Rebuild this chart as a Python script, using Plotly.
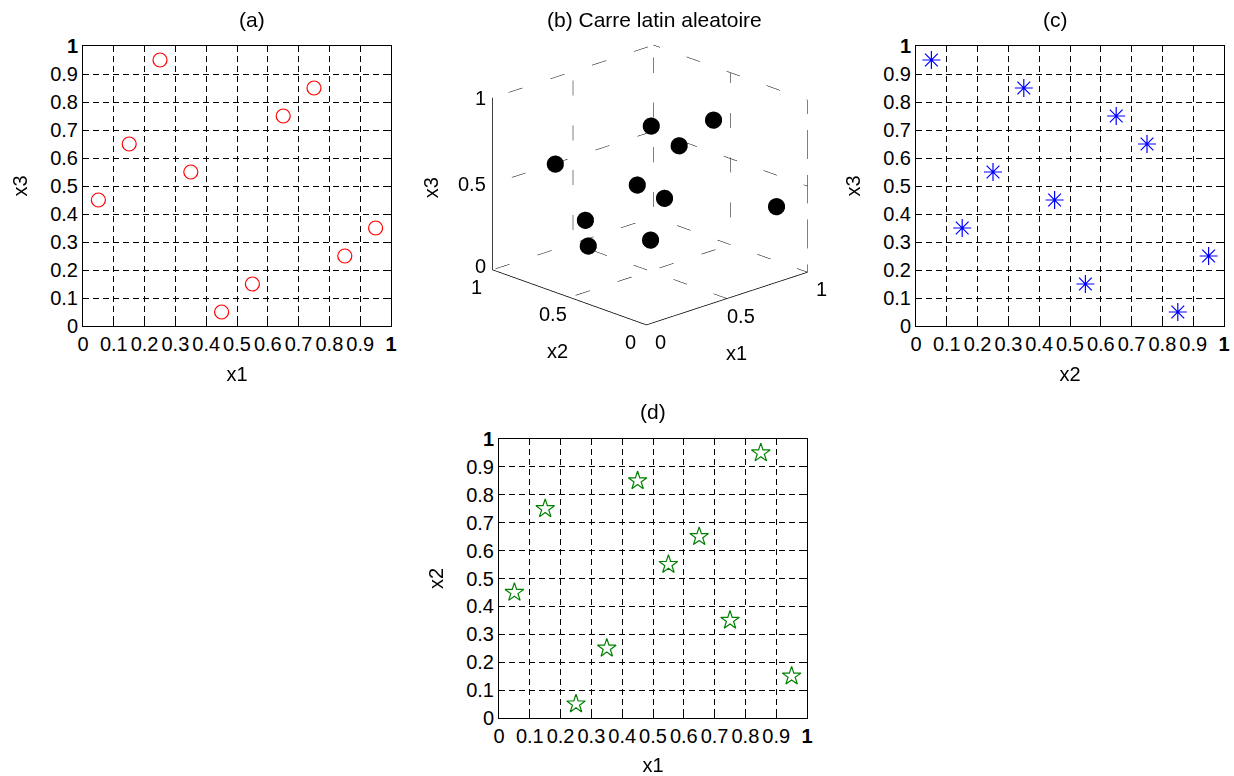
import plotly.graph_objects as go

# Data: random latin hypercube sample (10 points)
x1 = [0.05, 0.15, 0.25, 0.35, 0.45, 0.55, 0.65, 0.75, 0.85, 0.95]
x2 = [0.45, 0.75, 0.05, 0.25, 0.85, 0.55, 0.65, 0.35, 0.95, 0.15]
x3 = [0.45, 0.65, 0.95, 0.55, 0.05, 0.15, 0.75, 0.85, 0.25, 0.35]

tick_vals = [0, 0.1, 0.2, 0.3, 0.4, 0.5, 0.6, 0.7, 0.8, 0.9, 1]
tick_text = ["0", "0.1", "0.2", "0.3", "0.4", "0.5", "0.6", "0.7", "0.8", "0.9", "<b>1</b>"]
tick3_vals = [0, 0.5, 1]
tick3_text = ["0", "0.5", "1"]

W, H = 1234, 776
FONT = "Liberation Sans, Arial, sans-serif"
FS = 20
TS = 21


def dx(a, b):
    return [a / W, b / W]


def dy(top, bottom):
    return [1 - bottom / H, 1 - top / H]


fig = go.Figure()

# (a) x1 vs x3
fig.add_trace(go.Scatter(x=x1, y=x3, mode="markers", xaxis="x", yaxis="y",
                         marker=dict(symbol="circle-open", size=14, color="red", line=dict(width=1.2)),
                         showlegend=False))
# (c) x2 vs x3
fig.add_trace(go.Scatter(x=x2, y=x3, mode="markers", xaxis="x2", yaxis="y2",
                         marker=dict(symbol="asterisk-open", size=15, color="blue", line=dict(width=1.2, color="blue")),
                         showlegend=False))
# (d) x1 vs x2
fig.add_trace(go.Scatter(x=x1, y=x2, mode="markers", xaxis="x3", yaxis="y3",
                         marker=dict(symbol="star-open", size=14, color="green", line=dict(width=1.2)),
                         showlegend=False))

# (b) 3D scatter
fig.add_trace(go.Scatter3d(x=x1, y=x2, z=x3, mode="markers",
                           marker=dict(size=10, color="black", line=dict(width=0)),
                           showlegend=False, scene="scene"))

# MATLAB-like dashed grid on back planes of the 3D box, built from tick values
gx, gy, gz = [], [], []
for t in tick3_vals[1:]:
    # floor z=0
    gx += [t, t, None]; gy += [0, 1, None]; gz += [0, 0, None]
    gx += [0, 1, None]; gy += [t, t, None]; gz += [0, 0, None]
    # wall x2=1
    gx += [t, t, None]; gy += [1, 1, None]; gz += [0, 1, None]
    gx += [0, 1, None]; gy += [1, 1, None]; gz += [t, t, None]
    # wall x1=1
    gx += [1, 1, None]; gy += [1 - t, 1 - t, None]; gz += [0, 1, None]
    gx += [1, 1, None]; gy += [0, 1, None]; gz += [t, t, None]
gx += [1, 1, None]; gy += [0, 0, None]; gz += [0, 1, None]
fig.add_trace(go.Scatter3d(x=gx, y=gy, z=gz, mode="lines",
                           line=dict(color="black", width=1, dash="dash"),
                           showlegend=False, hoverinfo="skip", scene="scene"))
# solid axes lines
fig.add_trace(go.Scatter3d(x=[0, 1, None, 0, 0, None, 0, 0],
                           y=[0, 0, None, 0, 1, None, 1, 1],
                           z=[0, 0, None, 0, 0, None, 0, 1],
                           mode="lines", line=dict(color="black", width=1.5),
                           showlegend=False, hoverinfo="skip", scene="scene"))

axis2d = dict(range=[0, 1], tickvals=tick_vals, ticktext=tick_text, ticks="inside", ticklen=5,
              tickcolor="black", showline=True, linecolor="black", linewidth=1, mirror="ticks",
              showgrid=True, gridcolor="black", griddash="6px,4px", gridwidth=1, zeroline=False,
              tickfont=dict(family=FONT, size=FS, color="black"),
              title_font=dict(family=FONT, size=FS, color="black"), fixedrange=True)

axis3d = dict(range=[0, 1], showticklabels=False, ticks="", title=dict(text=""),
              showgrid=False, showbackground=False, showline=False, zeroline=False,
              showspikes=False)

# 3D tick labels / titles as scene annotations (upright, MATLAB-like placement)
scene_ann = []
for v, t in zip(tick3_vals, tick3_text):
    scene_ann.append(dict(x=v, y=0, z=0, text=t, showarrow=False, xshift=14, yshift=-17,
                          font=dict(family=FONT, size=FS)))
    scene_ann.append(dict(x=0, y=v, z=0, text=t, showarrow=False, xshift=-16, yshift=-17,
                          font=dict(family=FONT, size=FS)))
    scene_ann.append(dict(x=0, y=1, z=v, text=t, showarrow=False, xanchor="right", xshift=-5,
                          yshift=4 if v == 0 else 0, font=dict(family=FONT, size=FS)))
scene_ann.append(dict(x=0.5, y=0, z=0, text="x1", showarrow=False, xshift=10, yshift=-54,
                      font=dict(family=FONT, size=FS)))
scene_ann.append(dict(x=0, y=0.5, z=0, text="x2", showarrow=False, xshift=-12, yshift=-54,
                      font=dict(family=FONT, size=FS)))
scene_ann.append(dict(x=0, y=1, z=0.5, text="x3", showarrow=False, xshift=-62, yshift=-4,
                      textangle=-90, font=dict(family=FONT, size=FS)))

fig.update_layout(
    width=W, height=H,
    margin=dict(l=0, r=0, t=0, b=0, autoexpand=False),
    paper_bgcolor="white", plot_bgcolor="white",
    font=dict(family=FONT, size=FS, color="black"),
    xaxis=dict(axis2d, domain=dx(83, 391), anchor="y", title=dict(text="x1", standoff=12)),
    yaxis=dict(axis2d, domain=dy(46, 326), anchor="x", title=dict(text="x3", standoff=17)),
    xaxis2=dict(axis2d, domain=dx(916, 1224), anchor="y2", title=dict(text="x2", standoff=12)),
    yaxis2=dict(axis2d, domain=dy(46, 326), anchor="x2", title=dict(text="x3", standoff=17)),
    xaxis3=dict(axis2d, domain=dx(499, 807), anchor="y3", title=dict(text="x1", standoff=12)),
    yaxis3=dict(axis2d, domain=dy(439, 718), anchor="x3", title=dict(text="x2", standoff=17)),
    scene=dict(
        domain=dict(x=dx(430, 870), y=dy(20, 350)),
        xaxis=axis3d, yaxis=axis3d, zaxis=axis3d,
        aspectmode="manual", aspectratio=dict(x=1.35, y=1.35, z=1.11),
        camera=dict(eye=dict(x=-1.29, y=-1.35, z=0.68), center=dict(x=0, y=0, z=0),
                    up=dict(x=0, y=0, z=1), projection=dict(type="orthographic")),
        annotations=scene_ann,
    ),
    annotations=[
        dict(text="(a)", x=237 / W, y=1 - 19 / H, xref="paper", yref="paper", showarrow=False,
             yanchor="middle", font=dict(family=FONT, size=TS)),
        dict(text="(b) Carre latin aleatoire", x=654 / W, y=1 - 19 / H, xref="paper", yref="paper",
             showarrow=False, yanchor="middle", font=dict(family=FONT, size=TS)),
        dict(text="(c)", x=1070 / W, y=1 - 19 / H, xref="paper", yref="paper", showarrow=False,
             yanchor="middle", font=dict(family=FONT, size=TS)),
        dict(text="(d)", x=653 / W, y=1 - 411 / H, xref="paper", yref="paper", showarrow=False,
             yanchor="middle", font=dict(family=FONT, size=TS)),
    ],
)

fig.write_html("out.html", config={"displayModeBar": False},
               post_script="document.body.style.margin='0';document.body.style.overflow='hidden';")
